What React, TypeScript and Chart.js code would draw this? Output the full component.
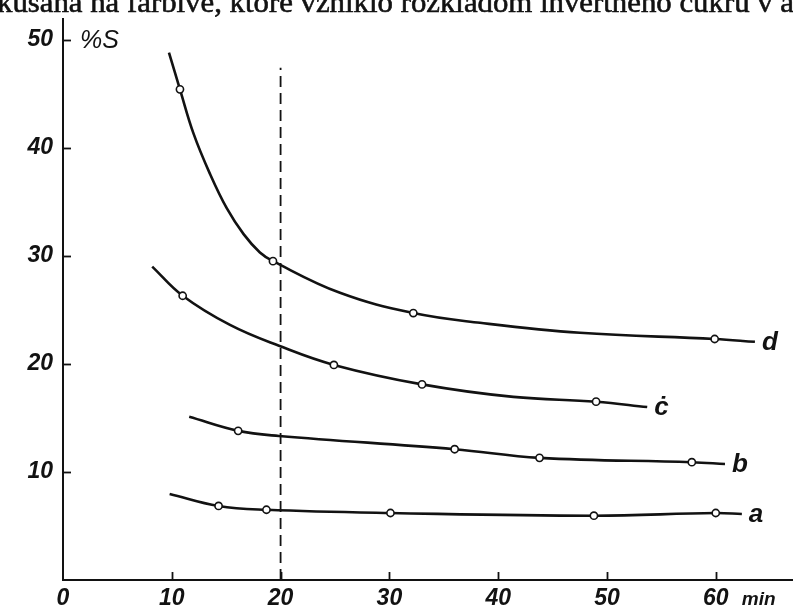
import React, { useEffect, useRef } from 'react';
import { Chart, registerables } from 'chart.js';
Chart.register(...registerables);

// ---- text ----
const headerText = 'kusana na farbive, ktoré vzniklo rozkladom invertného cukru v a';
const yUnit = '%S';
const xUnit = 'min';
const seriesNames = ['a', 'b', 'ċ', 'd'];

// ---- axes ----
const xMin = 0;
const xMax = 67.1;
const yMin = 0;
const yMax = 52;
const xTicks = [0, 10, 20, 30, 40, 50, 60];
const yTicks = [10, 20, 30, 40, 50];

// ---- drawn curves ----
const curveAx = [9.8, 14.3, 18.7, 30.1, 48.8, 60.0, 62.4];
const curveAy = [7.96, 6.85, 6.5, 6.2, 5.95, 6.2, 6.1];
const curveBx = [11.6, 16.1, 19.85, 36.0, 43.8, 57.8, 60.85];
const curveBy = [15.1, 13.8, 13.33, 12.1, 11.3, 10.9, 10.74];
const curveCx = [8.2, 11.0, 15.35, 19.85, 24.9, 33.0, 41.4, 49.0, 53.7];
const curveCy = [29.0, 26.3, 23.6, 21.67, 19.9, 18.1, 16.94, 16.5, 16.0];
const curveDx = [9.74, 10.75, 12.0, 13.5, 15.05, 16.6, 18.1, 19.3, 25.46, 32.2, 38.33, 47.52, 59.9, 63.6];
const curveDy = [48.8, 45.4, 41.3, 37.6, 34.4, 32.0, 30.3, 29.5, 26.57, 24.7, 23.8, 22.87, 22.3, 22.04];

// ---- measured points (circles) ----
const pointsAx = [14.3, 18.7, 30.1, 48.8, 60.0];
const pointsAy = [6.85, 6.5, 6.2, 5.95, 6.2];
const pointsBx = [16.1, 36.0, 43.8, 57.8];
const pointsBy = [13.8, 12.1, 11.3, 10.9];
const pointsCx = [11.0, 24.9, 33.0, 49.0];
const pointsCy = [26.3, 19.9, 18.1, 16.5];
const pointsDx = [10.75, 19.3, 32.2, 59.9];
const pointsDy = [45.4, 29.5, 24.7, 22.3];

// ---- dashed reference line ----
const markerX = 20;
const markerTop = 47.4;

const curvesX = [curveAx, curveBx, curveCx, curveDx];
const curvesY = [curveAy, curveBy, curveCy, curveDy];
const pointsX = [pointsAx, pointsBx, pointsCx, pointsDx];
const pointsY = [pointsAy, pointsBy, pointsCy, pointsDy];

const INK = '#121212';
const SANS = '"Liberation Sans", Arial, sans-serif';
const SERIF = '"Liberation Serif", "Times New Roman", serif';

const zip = (xs: number[], ys: number[]) => xs.map((x, i) => ({ x, y: ys[i] }));

const noPad = (s: any) => {
  s.paddingLeft = 0;
  s.paddingRight = 0;
  s.paddingTop = 0;
  s.paddingBottom = 0;
};

const decorPlugin = {
  id: 'decor',
  afterDraw(chart: any) {
    const ctx: CanvasRenderingContext2D = chart.ctx;
    const ca = chart.chartArea;
    const xs = chart.scales.x;
    const ys = chart.scales.y;
    ctx.save();
    ctx.strokeStyle = INK;
    ctx.fillStyle = INK;
    ctx.lineWidth = 2;
    ctx.lineCap = 'butt';
    // axes
    ctx.beginPath();
    ctx.moveTo(ca.left, ca.top);
    ctx.lineTo(ca.left, ca.bottom);
    ctx.lineTo(chart.width, ca.bottom);
    ctx.stroke();
    // inward ticks
    ctx.lineWidth = 1.8;
    for (const v of xTicks) {
      if (v === xMin) continue;
      const px = Math.round(xs.getPixelForValue(v)) + 0.5;
      ctx.beginPath();
      ctx.moveTo(px, ca.bottom);
      ctx.lineTo(px, ca.bottom - 8);
      ctx.stroke();
    }
    for (const v of yTicks) {
      const py = Math.round(ys.getPixelForValue(v)) + 0.5;
      ctx.beginPath();
      ctx.moveTo(ca.left, py);
      ctx.lineTo(ca.left + 8, py);
      ctx.stroke();
    }
    // curve labels
    ctx.font = `italic bold 26px ${SANS}`;
    ctx.textAlign = 'left';
    ctx.textBaseline = 'alphabetic';
    seriesNames.forEach((name, i) => {
      const cx = curvesX[i];
      const cy = curvesY[i];
      const px = xs.getPixelForValue(cx[cx.length - 1]);
      const py = ys.getPixelForValue(cy[cy.length - 1]);
      ctx.fillText(name, px + 7, py + 8);
    });
    // y unit
    ctx.font = `italic 25px ${SANS}`;
    ctx.fillText(yUnit, ca.left + 17, ys.getPixelForValue(yTicks[yTicks.length - 1]) + 8);
    // x unit
    ctx.font = `italic bold 19px ${SANS}`;
    ctx.fillText(xUnit, xs.getPixelForValue(xTicks[xTicks.length - 1]) + 26, ca.bottom + 25);
    // header text (cut at top)
    ctx.font = `29px ${SERIF}`;
    const w = ctx.measureText(headerText).width;
    const sx = 797 / w;
    ctx.translate(-3, 12);
    ctx.scale(sx, 1);
    ctx.lineWidth = 0.6;
    ctx.fillText(headerText, 0, 0);
    ctx.strokeText(headerText, 0, 0);
    ctx.restore();
  },
};

export default function App() {
  const ref = useRef<HTMLCanvasElement | null>(null);
  useEffect(() => {
    if (!ref.current) return;
    const datasets: any[] = [];
    datasets.push({
      type: 'line',
      data: [
        { x: markerX, y: yMin },
        { x: markerX, y: markerTop },
      ],
      borderColor: INK,
      borderWidth: 1.8,
      borderDash: [11, 6],
      pointRadius: 0,
      fill: false,
      order: 3,
    });
    for (let i = 0; i < seriesNames.length; i++) {
      datasets.push({
        type: 'line',
        data: zip(curvesX[i], curvesY[i]),
        borderColor: INK,
        borderWidth: 2.6,
        pointRadius: 0,
        tension: 0.4,
        fill: false,
        order: 2,
      });
      datasets.push({
        type: 'scatter',
        data: zip(pointsX[i], pointsY[i]),
        pointRadius: 3.6,
        pointBackgroundColor: '#ffffff',
        pointBorderColor: INK,
        pointBorderWidth: 1.6,
        showLine: false,
        order: 0,
      });
    }
    const tickFont = { family: SANS, size: 23, weight: 'bold' as const, style: 'italic' as const };
    const chart = new Chart(ref.current, {
      type: 'scatter',
      data: { datasets },
      plugins: [decorPlugin],
      options: {
        animation: false,
        responsive: false,
        events: [],
        layout: { autoPadding: false, padding: { top: 18, right: 0, left: 0, bottom: 0 } },
        plugins: { legend: { display: false }, tooltip: { enabled: false } },
        scales: {
          x: {
            type: 'linear',
            min: xMin,
            max: xMax,
            afterFit: (s: any) => {
              s.height = 28;
              noPad(s);
            },
            grid: { display: false, drawTicks: false },
            border: { display: false },
            afterBuildTicks: (s: any) => {
              s.ticks = xTicks.map((v) => ({ value: v }));
            },
            ticks: {
              padding: 5,
              color: INK,
              font: tickFont,
              maxRotation: 0,
              autoSkip: false,
              callback: (v: any) => String(v),
            },
          },
          y: {
            type: 'linear',
            min: yMin,
            max: yMax,
            afterFit: (s: any) => {
              s.width = 63;
              noPad(s);
            },
            grid: { display: false, drawTicks: false },
            border: { display: false },
            afterBuildTicks: (s: any) => {
              s.ticks = yTicks.map((v) => ({ value: v }));
            },
            ticks: {
              padding: 10,
              color: INK,
              font: tickFont,
              autoSkip: false,
              callback: (v: any) => String(v),
            },
          },
        },
      } as any,
    });
    return () => chart.destroy();
  }, []);
  return (
    <div style={{ position: 'absolute', left: 0, top: 0, width: 793, height: 608, background: '#fff' }}>
      <canvas ref={ref} width={793} height={608} style={{ display: 'block', width: 793, height: 608 }} />
    </div>
  );
}
